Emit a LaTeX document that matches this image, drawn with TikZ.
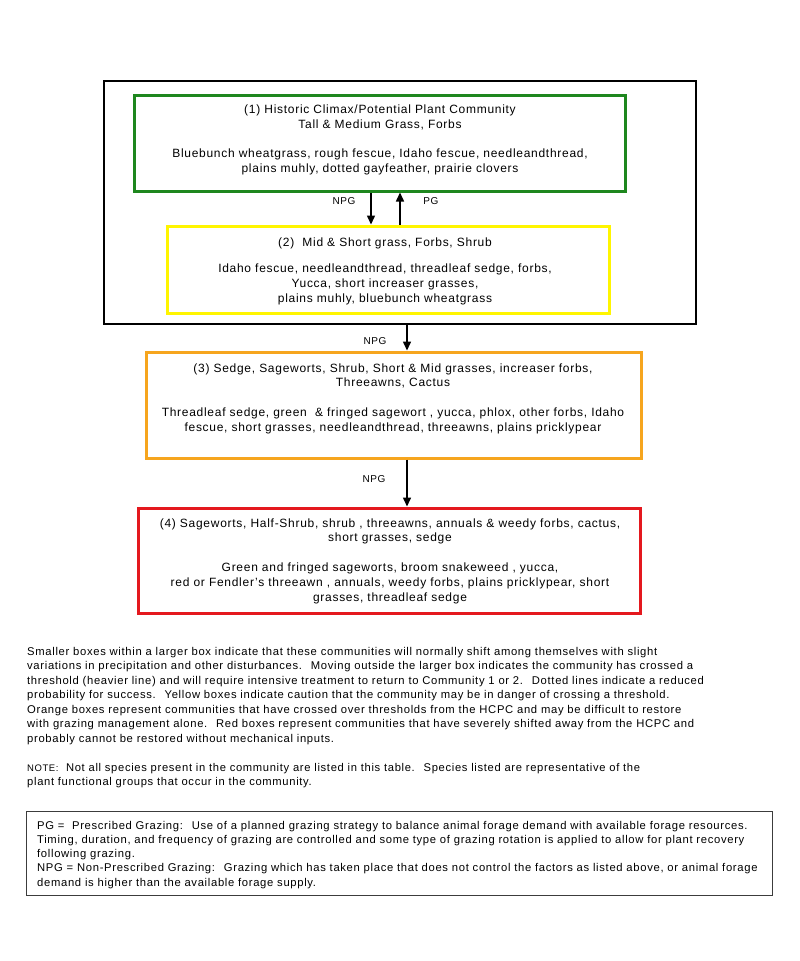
\documentclass[tikz,border=0pt]{standalone}
\usepackage{fontspec}
\setmainfont{Liberation Sans}[LetterSpace=6]
\usetikzlibrary{arrows.meta}
\definecolor{cgreen}{RGB}{30,135,30}
\definecolor{cyellow}{RGB}{255,245,0}
\definecolor{corange}{RGB}{246,165,30}
\definecolor{cred}{RGB}{228,24,30}
\definecolor{cgray}{RGB}{60,60,60}
\begin{document}
\begin{tikzpicture}[x=1pt,y=-1pt,
  box/.style={rectangle,inner sep=0pt},
  boxtext/.style={align=center,inner sep=0pt,font=\fontsize{12}{14.7}\selectfont},
  lbl/.style={inner sep=0pt,font=\fontsize{10}{12}\selectfont},
  para/.style={align=left,inner sep=0pt,anchor=base west,font=\fontsize{11.25}{14.5}\selectfont},
  arr/.style={line width=1.5pt,-{Triangle[width=8pt,length=9pt]}}]
\useasboundingbox (0,0) rectangle (800,961);
\fill[white] (0,0) rectangle (800,961);
% boxes
\node[box,draw=black,line width=2pt,minimum width=592pt,minimum height=243pt] (outer) at (400,202.5) {};
\node[box,draw=cgreen,line width=3pt,minimum width=491pt,minimum height=96pt] (b1) at (379.5,143) {};
\node[box,draw=cyellow,line width=3pt,minimum width=442pt,minimum height=87pt] (b2) at (388,269.5) {};
\node[box,draw=corange,line width=3pt,minimum width=495pt,minimum height=106pt] (b3) at (393.5,405) {};
\node[box,draw=cred,line width=3pt,minimum width=502pt,minimum height=105pt] (b4) at (389,560.5) {};
\node[box,draw=cgray,line width=1pt,minimum width=746pt,minimum height=84pt] (legend) at (399,853) {};
% box texts
\node[boxtext] (t1) at (380,140) {(1) Historic Climax/Potential Plant Community\\Tall \& Medium Grass, Forbs\\[15pt]Bluebunch wheatgrass, rough fescue, Idaho fescue, needleandthread,\\plains muhly, dotted gayfeather, prairie clovers};
\node[boxtext] (t2) at (385,271) {(2)~ Mid \& Short grass, Forbs, Shrub\\[12pt]Idaho fescue, needleandthread, threadleaf sedge, forbs,\\Yucca, short increaser grasses,\\plains muhly, bluebunch wheatgrass};
\node[boxtext] (t3) at (393,398.5) {(3) Sedge, Sageworts, Shrub, Short \& Mid grasses, increaser forbs,\\Threeawns, Cactus\\[15pt]Threadleaf sedge, green~ \& fringed sagewort , yucca, phlox, other forbs, Idaho\\fescue, short grasses, needleandthread, threeawns, plains pricklypear};
\node[boxtext] (t4) at (390,561) {(4) Sageworts, Half-Shrub, shrub , threeawns, annuals \& weedy forbs, cactus,\\short grasses, sedge\\[15pt]Green and fringed sageworts, broom snakeweed , yucca,\\red or Fendler's threeawn , annuals, weedy forbs, plains pricklypear, short\\grasses, threadleaf sedge};
% arrows
\draw[arr] ([xshift=-8.5pt]b1.south) -- ([xshift=-8.5pt]b1.south |- b2.north);
\draw[arr] ([xshift=12pt]b2.north) -- ([xshift=12pt]b2.north |- b1.south);
\draw[arr] ([xshift=7pt]outer.south) -- ([xshift=7pt]outer.south |- b3.north);
\draw[arr] ([xshift=13.5pt]b3.south) -- ([xshift=13.5pt]b3.south |- b4.north);
% labels
\node[lbl] (l1) at (344,201) {NPG};
\node[lbl] (l2) at (431,201) {PG};
\node[lbl] (l3) at (375,341) {NPG};
\node[lbl] (l4) at (374,479) {NPG};
% paragraphs
\node[para] (p1) at (27,742) {Smaller boxes within a larger box indicate that these communities will normally shift among themselves with slight\\
variations in precipitation and other disturbances.~ Moving outside the larger box indicates the community has crossed a\\
threshold (heavier line) and will require intensive treatment to return to Community 1 or 2.~ Dotted lines indicate a reduced\\
probability for success.~ Yellow boxes indicate caution that the community may be in danger of crossing a threshold.\\
Orange boxes represent communities that have crossed over thresholds from the HCPC and may be difficult to restore\\
with grazing management alone.~ Red boxes represent communities that have severely shifted away from the HCPC and\\
probably cannot be restored without mechanical inputs.};
\node[para,font=\fontsize{11.2}{14}\selectfont] (p2) at (27,785) {{\fontsize{9.5}{14}\selectfont NOTE:}~ Not all species present in the community are listed in this table.~ Species listed are representative of the\\
plant functional groups that occur in the community.};
\node[para,font=\fontsize{11.25}{14.25}\selectfont] (p3) at (37,886) {PG =~ Prescribed Grazing:~ Use of a planned grazing strategy to balance animal forage demand with available forage resources.\\
Timing, duration, and frequency of grazing are controlled and some type of grazing rotation is applied to allow for plant recovery\\
following grazing.\\
NPG = Non-Prescribed Grazing:~ Grazing which has taken place that does not control the factors as listed above, or animal forage\\
demand is higher than the available forage supply.};
\end{tikzpicture}
\end{document}
